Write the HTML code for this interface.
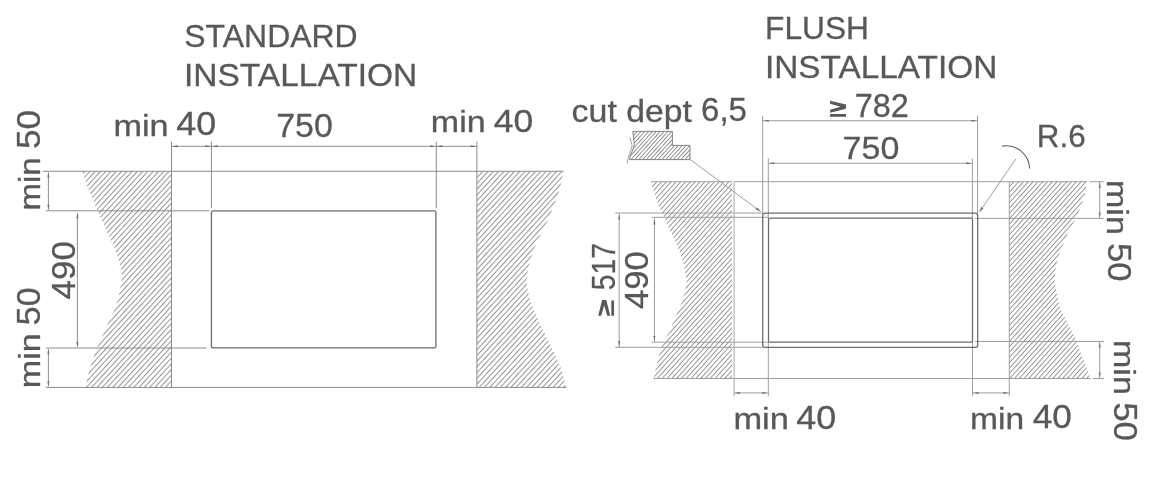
<!DOCTYPE html>
<html>
<head>
<meta charset="utf-8">
<title>Installation</title>
<style>
  html, body { margin: 0; padding: 0; background: #ffffff; }
  body { width: 1154px; height: 500px; overflow: hidden; }
  svg { display: block; will-change: transform; }
  text { font-family: "Liberation Sans", sans-serif; fill: #58585a; stroke: #58585a; stroke-width: 0.3; }
  .t { font-size: 31.3px; }
  .d { font-size: 32.5px; }
  .thin { stroke: #8c8c8c; stroke-width: 1; fill: none; }
  .thinR { stroke: #9e9e9e; stroke-width: 1; fill: none; }
  .lite { stroke: #a6a6a6; stroke-width: 1; fill: none; }
  .rect { stroke: #6a6a6a; stroke-width: 1.25; fill: none; }
  .gef { fill: #58585a; stroke: none; }
  .arr { fill: #6e6e6e; stroke: none; }
</style>
</head>
<body>
<svg width="1154" height="500" viewBox="0 0 1154 500">
  <defs>
    <pattern id="hatchL1" patternUnits="userSpaceOnUse" width="3.880" height="3.880" patternTransform="translate(-0.84,0) rotate(42.6)">
      <rect x="0" y="0" width="0.82" height="3.880" fill="#7e7e7e"/>
    </pattern>
    <pattern id="hatchL2" patternUnits="userSpaceOnUse" width="3.880" height="3.880" patternTransform="translate(1.96,0) rotate(42.6)">
      <rect x="0" y="0" width="0.82" height="3.880" fill="#7e7e7e"/>
    </pattern>
    <pattern id="hatchR1" patternUnits="userSpaceOnUse" width="3.570" height="3.570" patternTransform="translate(3.21,0) rotate(42.0)">
      <rect x="0" y="0" width="0.8" height="3.570" fill="#808080"/>
    </pattern>
    <pattern id="hatchR2" patternUnits="userSpaceOnUse" width="3.570" height="3.570" patternTransform="translate(-0.05,0) rotate(42.0)">
      <rect x="0" y="0" width="0.8" height="3.570" fill="#808080"/>
    </pattern>
    <pattern id="hatchS" patternUnits="userSpaceOnUse" width="2.86" height="2.86" patternTransform="translate(0.5,0) rotate(42)">
      <rect x="0" y="0" width="0.8" height="2.86" fill="#787878"/>
    </pattern>
  </defs>
  <rect x="0" y="0" width="1154" height="500" fill="#ffffff"/>

  <!-- ================= STANDARD INSTALLATION ================= -->

  <!-- hatches -->
  <path d="M82.3,171.3 L171.5,171.3 L171.5,387.4 L85.6,387.4 L87.2,378.5 L90.2,367.0 L94.1,355.5 L98.7,344.0 L104.0,332.5 L109.1,321.0 L114.8,309.5 L118.3,298.0 L120.6,286.5 L122.4,277.0 L120.6,268.4 L117.8,257.0 L113.7,245.5 L107.9,234.0 L102.9,222.5 L97.6,211.0 L93.0,199.5 L87.9,188.0 Z" fill="url(#hatchL1)"/>
  <path d="M476.9,171.3 L563.4,171.3 L561.0,183.4 L558.0,195.0 L553.5,206.4 L549.0,218.0 L543.0,229.4 L537.4,241.0 L532.8,252.4 L529.4,264.0 L527.0,275.3 L526.6,281.0 L527.0,286.5 L529.4,298.0 L533.5,309.5 L538.6,321.0 L544.3,332.5 L550.0,344.0 L555.3,355.5 L560.4,367.0 L563.9,378.5 L566.1,387.4 L476.9,387.4 Z" fill="url(#hatchL2)"/>

  <!-- extension + outline lines -->
  <path class="thin" d="M42.8,171.3 H563.5 M45.8,210.8 H209.5 M45.8,348 H206.5 M45.8,387.4 H566.5"/>
  <path class="thin" d="M171.5,141.6 V387.4 M211.4,141.6 V208 M436.3,141.6 V208 M476.9,141.6 V387.4"/>
  <!-- dim lines -->
  <path class="thin" d="M171.5,146.3 H476.9 M48.4,172.5 V209.6 M48.4,349.2 V386.2 M77.4,213.4 V346.8"/>
  <polygon class="arr" points="172.40,146.30 177.60,145.30 177.60,147.30"/>
  <polygon class="arr" points="210.50,146.30 205.30,145.30 205.30,147.30"/>
  <polygon class="arr" points="212.30,146.30 217.50,145.30 217.50,147.30"/>
  <polygon class="arr" points="435.40,146.30 430.20,145.30 430.20,147.30"/>
  <polygon class="arr" points="437.20,146.30 442.40,145.30 442.40,147.30"/>
  <polygon class="arr" points="476.00,146.30 470.80,145.30 470.80,147.30"/>
  <polygon class="arr" points="48.40,172.20 47.40,177.40 49.40,177.40"/>
  <polygon class="arr" points="48.40,209.90 47.40,204.70 49.40,204.70"/>
  <polygon class="arr" points="48.40,348.90 47.40,354.10 49.40,354.10"/>
  <polygon class="arr" points="48.40,386.50 47.40,381.30 49.40,381.30"/>
  <polygon class="arr" points="77.40,213.10 76.40,218.30 78.40,218.30"/>
  <polygon class="arr" points="77.40,347.10 76.40,341.90 78.40,341.90"/>

  <!-- cutout -->
  <rect class="rect" x="211.4" y="210.9" width="224.5" height="136.9" rx="1.6" ry="1.6"/>

  <!-- texts -->

  <!-- ================= FLUSH INSTALLATION ================= -->

  <!-- hatches -->
  <path d="M651.0,181.7 L732.0,181.7 L732.0,378.5 L653.7,378.5 L655.9,368.0 L658.7,357.0 L662.0,346.0 L667.5,335.0 L672.6,324.0 L677.4,313.0 L681.8,302.0 L685.1,291.0 L686.7,282.0 L685.6,274.0 L683.6,263.0 L679.6,252.0 L675.2,241.0 L669.7,230.0 L664.7,219.0 L659.8,208.0 L655.4,197.0 Z" fill="url(#hatchR1)"/>
  <path d="M1009.3,181.7 L1087.0,181.7 L1084.8,194.0 L1081.2,206.0 L1075.5,218.4 L1065.7,238.0 L1060.0,252.0 L1056.0,266.0 L1054.5,280.0 L1056.8,294.0 L1060.0,308.0 L1067.0,322.0 L1076.8,341.0 L1082.0,357.0 L1086.8,368.0 L1090.2,378.5 L1009.3,378.5 Z" fill="url(#hatchR2)"/>
  <!-- small section -->
  <path d="M632.8,131.4 H672.4 V145.4 H690 V159.6 H629.6 L629.8,157.5 C630.5,154 634.2,148 634.4,144.2 L632.8,131.4 Z" fill="url(#hatchS)" stroke="#7c7c7c" stroke-width="0.95"/>
  <path d="M630,137.4 C630.8,141 632.2,144.5 632,146.6 C631.6,150 627.6,156 627.2,163.4" fill="none" stroke="#8c8c8c" stroke-width="0.8"/>

  <!-- lines -->
  <path class="thinR" d="M651.7,181.7 H732"/>
  <path class="thinR" d="M734.1,181.7 H1087 M1089.7,181.7 H1103.6 M615.2,213.0 H762.6 M651.7,217.3 H768.4 M975.2,218.4 H1103.6 M651.7,342.2 H768.4 M615.2,347.3 H762.6 M975.2,341.5 H1104 M653.7,378.5 H1090.9 M1093,378.5 H1104"/>
  <path class="thinR" d="M762.7,115.8 V213.3 M768.3,158 V218.4 M768.3,342 V396.3 M972.4,158.4 V218.4 M972.5,342 V396.3 M977.6,115.4 V213.3 M1009.3,181.7 V396.3"/>
  <path class="lite" d="M734.1,181.7 V396.3" stroke-width="1.2"/>
  <!-- dims -->
  <path class="thinR" d="M762.7,120.7 H977.6 M768.3,163.3 H972.4 M619.2,213.4 V347.2 M654.4,218.4 V341.6 M1099.7,181.6 V218.5 M1099.7,341.5 V378.5 M733.8,392.9 H768.3 M972.5,392.9 H1009.4"/>
  <!-- leaders -->
  <path class="thinR" d="M690.2,159.5 L760.6,211.6 M1015.8,159 L979.4,212"/>
  <path d="M1002.2,146.1 A23.4,23.4 0 0 1 1029.6,168.6" fill="none" stroke="#5c5c5c" stroke-width="1.1"/>
  <polygon class="arr" points="763.60,120.70 768.80,119.70 768.80,121.70"/>
  <polygon class="arr" points="976.70,120.70 971.50,119.70 971.50,121.70"/>
  <polygon class="arr" points="769.10,163.30 774.30,162.30 774.30,164.30"/>
  <polygon class="arr" points="971.50,163.30 966.30,162.30 966.30,164.30"/>
  <polygon class="arr" points="619.20,214.30 618.20,219.50 620.20,219.50"/>
  <polygon class="arr" points="619.20,346.30 618.20,341.10 620.20,341.10"/>
  <polygon class="arr" points="654.40,219.30 653.40,224.50 655.40,224.50"/>
  <polygon class="arr" points="654.40,341.10 653.40,335.90 655.40,335.90"/>
  <polygon class="arr" points="1099.70,182.50 1098.70,187.70 1100.70,187.70"/>
  <polygon class="arr" points="1099.70,217.60 1098.70,212.40 1100.70,212.40"/>
  <polygon class="arr" points="1099.70,342.40 1098.70,347.60 1100.70,347.60"/>
  <polygon class="arr" points="1099.70,377.60 1098.70,372.40 1100.70,372.40"/>
  <polygon class="arr" points="734.70,392.90 739.90,391.90 739.90,393.90"/>
  <polygon class="arr" points="767.40,392.90 762.20,391.90 762.20,393.90"/>
  <polygon class="arr" points="973.40,392.90 978.60,391.90 978.60,393.90"/>
  <polygon class="arr" points="1008.50,392.90 1003.30,391.90 1003.30,393.90"/>
  <polygon class="arr" points="760.60,211.60 755.65,209.55 757.19,207.46"/>
  <polygon class="arr" points="979.40,212.00 981.27,206.98 983.42,208.45"/>

  <!-- cutouts -->
  <rect class="rect" x="762.7" y="213.0" width="215.0" height="134.4" rx="2.4" ry="2.4"/>
  <rect class="rect" x="768.5" y="218.2" width="204.0" height="124.0" rx="1.4" ry="1.4"/>

  <!-- texts -->
  <text font-size="31.50" transform="translate(184.31,46.80) scale(1.0146,1)">STANDARD</text>
  <text font-size="31.50" transform="translate(183.95,86.30) scale(1.0641,1)">INSTALLATION</text>
  <text font-size="29.80" transform="translate(113.44,135.90) scale(1.1470,1)">min</text>
  <text font-size="32.60" transform="translate(176.34,135.40) scale(1.1014,1)">40</text>
  <text font-size="32.60" transform="translate(276.27,136.50) scale(1.0403,1)">750</text>
  <text font-size="29.80" transform="translate(430.85,132.10) scale(1.1413,1)">min</text>
  <text font-size="32.00" transform="translate(493.65,131.60) scale(1.1101,1)">40</text>
  <text font-size="29.80" transform="translate(40.40,210.58) rotate(-90) scale(1.1083,1)">min</text>
  <text font-size="32.60" transform="translate(39.90,149.06) rotate(-90) scale(1.0784,1)">50</text>
  <text font-size="29.80" transform="translate(40.30,388.25) rotate(-90) scale(1.1447,1)">min</text>
  <text font-size="32.60" transform="translate(39.80,325.21) rotate(-90) scale(1.0398,1)">50</text>
  <text font-size="32.60" transform="translate(74.60,299.44) rotate(-90) scale(1.0743,1)">490</text>
  <text font-size="31.50" transform="translate(765.03,38.70) scale(1.0067,1)">FLUSH</text>
  <text font-size="31.50" transform="translate(764.96,78.20) scale(1.0594,1)">INSTALLATION</text>
  <text font-size="30.50" transform="translate(571.61,121.60) scale(1.1146,1)">cut</text>
  <text font-size="30.50" transform="translate(626.32,121.60) scale(1.1039,1)">dept</text>
  <text font-size="32.30" transform="translate(701.00,121.30) scale(1.0241,1)">6,5</text>
  <path class="gef" d="M830.1,100.7 L846,104.6 L846,108.8 L830.1,112.7 L830.1,109.7 L840.4,106.7 L830.1,103.7 Z M830.1,114.05 H846 V116.75 H830.1 Z"/>
  <text font-size="32.60" transform="translate(854.65,117.20) scale(0.9937,1)">782</text>
  <text font-size="32.20" transform="translate(842.56,159.40) scale(1.0572,1)">750</text>
  <text font-size="31.50" transform="translate(1036.87,146.90) scale(0.9946,1)">R.6</text>
  <path class="gef" d="M598.2,315.7 L602.1,300.1 L606.3,300.1 L610.2,315.7 L607.2,315.7 L604.2,305.6 L601.2,315.7 Z M611.35,300.4 H614.05 V315.7 H611.35 Z"/>
  <text font-size="32.60" transform="translate(614.70,290.18) rotate(-90) scale(0.8692,1)">517</text>
  <text font-size="32.60" transform="translate(648.00,308.93) rotate(-90) scale(1.0629,1)">490</text>
  <text font-size="29.80" transform="translate(733.42,429.10) scale(1.1560,1)">min</text>
  <text font-size="32.60" transform="translate(796.34,428.60) scale(1.1014,1)">40</text>
  <text font-size="29.80" transform="translate(970.08,428.70) scale(1.1265,1)">min</text>
  <text font-size="32.60" transform="translate(1032.76,428.20) scale(1.0809,1)">40</text>
  <text font-size="29.80" transform="translate(1107.20,180.06) rotate(90) scale(1.1401,1)">min</text>
  <text font-size="32.60" transform="translate(1107.70,242.97) rotate(90) scale(1.0606,1)">50</text>
  <text font-size="29.80" transform="translate(1113.60,340.06) rotate(90) scale(1.1401,1)">min</text>
  <text font-size="32.60" transform="translate(1114.10,402.15) rotate(90) scale(1.0725,1)">50</text>
</svg>
</body>
</html>
